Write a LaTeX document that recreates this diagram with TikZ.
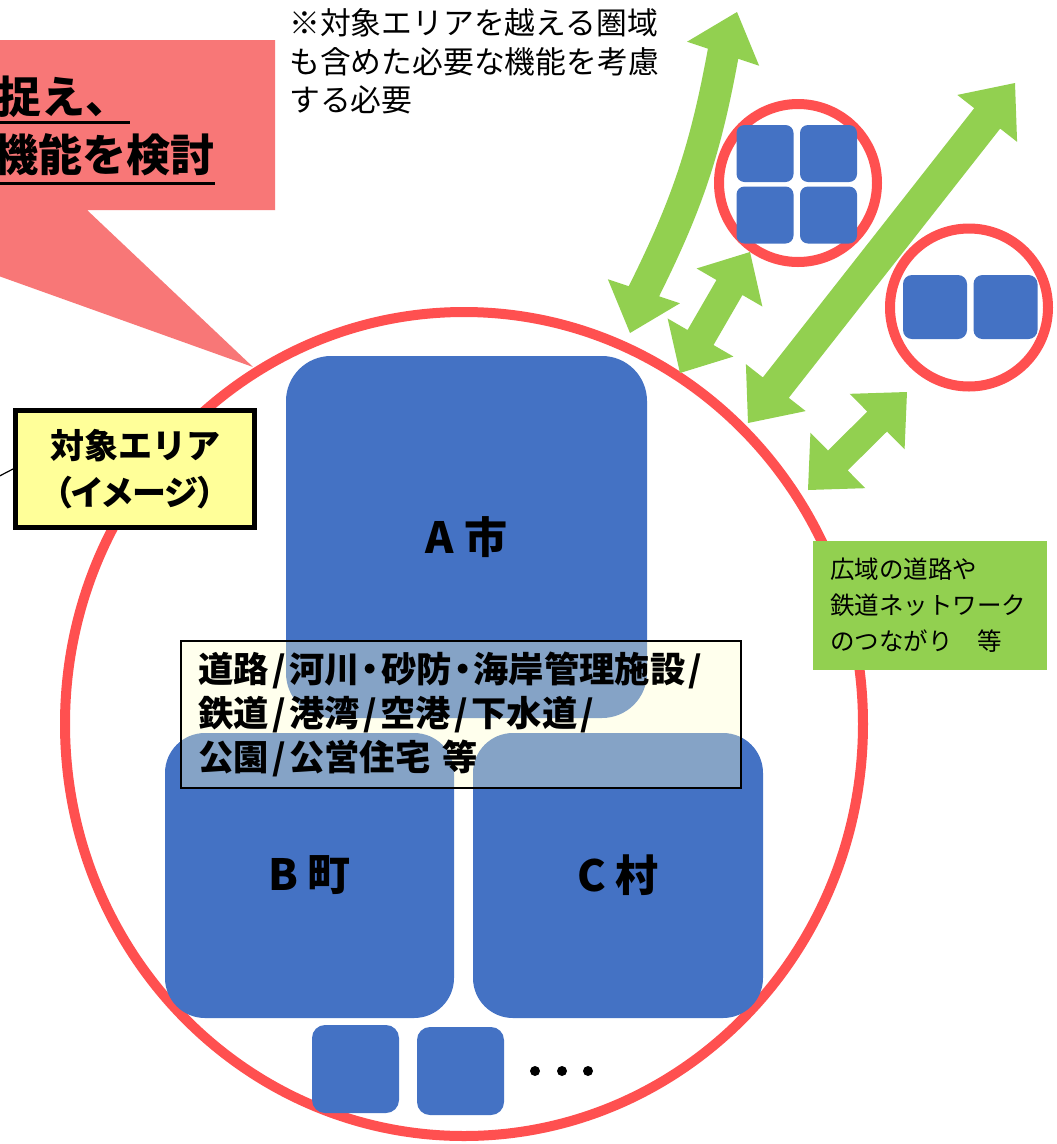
\documentclass[tikz,border=0pt]{standalone}
\usepackage{fontspec}
\setmainfont{Noto Sans CJK JP}
\newfontfamily\jpp[RawFeature=+palt]{Noto Sans CJK JP}
\usetikzlibrary{calc}
\definecolor{cblue}{HTML}{4472C4}
\definecolor{ringred}{HTML}{FF5050}
\definecolor{callred}{HTML}{F87777}
\definecolor{lgreen}{HTML}{92D050}
\definecolor{lyellow}{HTML}{FFFF99}
\definecolor{tbfill}{HTML}{FFFFCC}
\newcommand{\fsz}[2]{\fontsize{#1}{#2}\selectfont}
\newcommand{\ssl}{\kern3.5pt/\kern3.5pt}
\newcommand{\mdt}{\kern2pt・\kern2pt}
% double-headed block arrow: tail, head, shaft half width, head half width, head length, bend
\newcommand{\dblarrow}[6]{%
  \coordinate (#1-h) at ($(#1)!#5!(#2)$);
  \coordinate (#2-h) at ($(#2)!#5!(#1)$);
  \fill[lgreen] (#1)
    -- ($(#1-h)!#4!-90:(#2)$) -- ($(#1-h)!#3!-90:(#2)$)
    to[bend right=#6] ($(#2-h)!#3!90:(#1)$) -- ($(#2-h)!#4!90:(#1)$)
    -- (#2)
    -- ($(#2-h)!#4!-90:(#1)$) -- ($(#2-h)!#3!-90:(#1)$)
    to[bend left=#6] ($(#1-h)!#3!90:(#2)$) -- ($(#1-h)!#4!90:(#2)$)
    -- cycle;}
\begin{document}
\begin{tikzpicture}[x=1pt,y=-1pt,
  city/.style={fill=cblue, rounded corners=40pt, inner sep=0pt, text=black,
    font=\bfseries\fsz{43}{50}},
  sq/.style={fill=cblue, inner sep=0pt},
  ring/.style={circle, draw=ringred, line width=10pt, inner sep=0pt, minimum size=158pt},
  plain/.style={inner sep=0pt, text=black},
  dot/.style={circle, fill=black, inner sep=0pt, minimum size=10pt},
  ylab/.style={draw=black, line width=5pt, fill=lyellow, minimum width=239pt,
    minimum height=117pt, align=center, inner sep=0pt, font=\bfseries\fsz{34}{47}},
  gbox/.style={fill=lgreen, minimum width=234pt, minimum height=129pt, text width=200pt,
    inner xsep=17pt, inner ysep=0pt, align=left, font=\fsz{24.5}{36}},
  tbox/.style={draw=black, line width=1.5pt, fill=tbfill, fill opacity=0.35, text opacity=1,
    minimum width=560pt, minimum height=147pt, text width=526pt, inner xsep=17pt,
    inner ysep=0pt, align=left, font=\jpp\bfseries\fsz{35.3}{44}}
]
\fill[white] (0,0) rectangle (1057,1144);
\useasboundingbox (0,0) rectangle (1057,1144);

% callout
\fill[callred] (-60,40) -- (275,40) -- (275,210) -- (87,210) -- (253,367) -- (-60,255) -- cycle;
\node[plain, anchor=east, font=\bfseries\fsz{44}{50}] (c1) at (130,97) {捉え、};
\node[plain, anchor=east, font=\bfseries\fsz{44}{50}] (c2) at (215,155) {機能を検討};
\coordinate (u1) at (-5,122);
\coordinate (u2) at (-5,183);
\draw[line width=3pt] (u1) -- (u1 -| c1.east);
\draw[line width=3pt] (u2) -- (u2 -| c2.east);

% note text
\node[plain, anchor=west, font=\fsz{30.8}{38}] (n1) at (289,23) {※対象エリアを越える圏域};
\node[plain, anchor=west, font=\fsz{30.8}{38}] (n2) at (289,61.5) {も含めた必要な機能を考慮};
\node[plain, anchor=west, font=\fsz{30.8}{38}] (n3) at (289,100) {する必要};

% target area
\draw[ringred, line width=10pt] (464,724) ellipse [x radius=399pt, y radius=412pt];

\node[city, rounded corners=45pt, minimum width=361pt, minimum height=362pt] (A) at (466.5,537) {A 市};
\node[city, minimum width=289pt, minimum height=285pt] (B) at (309.5,875.5) {B 町};
\node[city, minimum width=290pt, minimum height=285pt] (C) at (618,875.5) {C 村};

\node[tbox] (tb) at (461,714.5) {道路\ssl 河川\mdt 砂防\mdt 海岸管理施設\ssl\\鉄道\ssl 港湾\ssl 空港\ssl 下水道\ssl\\公園\ssl 公営住宅 等};

\node[sq, rounded corners=13pt, minimum width=87pt, minimum height=88pt] (s1) at (355.5,1069) {};
\node[sq, rounded corners=13pt, minimum width=87pt, minimum height=88pt] (s2) at (460.5,1071) {};
\node[dot] (d1) at (535,1071) {};
\node[dot] (d2) at (562,1071) {};
\node[dot] (d3) at (588,1071) {};

% label
\node[ylab] (yl) at (135,469) {対象エリア\\{\jpp（イメージ）}};
\coordinate (lead) at (-12,482);
\draw[line width=1.2pt] (lead) -- (yl.west);

% outer areas
\node[ring] (r1) at (798,183) {};
\node[sq, rounded corners=8pt, minimum size=57pt] (q1) at (765,153.5) {};
\node[sq, rounded corners=8pt, minimum size=57pt] (q2) at (828.5,153.5) {};
\node[sq, rounded corners=8pt, minimum size=57pt] (q3) at (765,215) {};
\node[sq, rounded corners=8pt, minimum size=57pt] (q4) at (828.5,215) {};

\node[ring] (r2) at (969,307.5) {};
\node[sq, rounded corners=9pt, minimum size=64pt] (q5) at (935,307) {};
\node[sq, rounded corners=9pt, minimum size=64pt] (q6) at (1005.5,307) {};

% arrows
\coordinate (a1s) at (630,333); \coordinate (a1e) at (737,12);
\coordinate (a2s) at (680,373); \coordinate (a2e) at (750,252);
\coordinate (a3s) at (748,423); \coordinate (a3e) at (1015,83);
\coordinate (a4s) at (808,490); \coordinate (a4e) at (907,392);
\dblarrow{a1s}{a1e}{16pt}{38pt}{44pt}{8}
\dblarrow{a2s}{a2e}{15pt}{38pt}{41pt}{0}
\dblarrow{a3s}{a3e}{16.5pt}{38pt}{45pt}{0}
\dblarrow{a4s}{a4e}{14pt}{39pt}{42pt}{0}

% green label
\node[gbox] (gb) at (930,605.5) {広域の道路や\\鉄道ネットワーク\\のつながり　等};
\end{tikzpicture}
\end{document}
